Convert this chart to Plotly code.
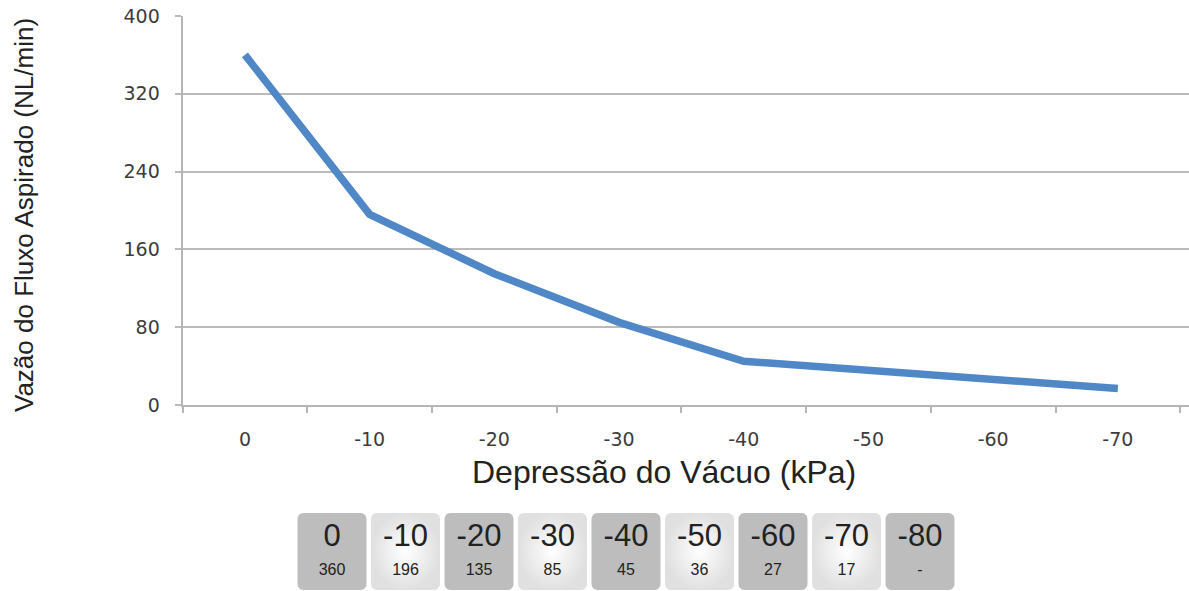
import numpy as np
import plotly.graph_objects as go

# ---- data ----
vacuum_labels = ["0", "-10", "-20", "-30", "-40", "-50", "-60", "-70"]
flow_values = [360, 196, 135, 85, 45, 36, 27, 17]
y_ticks = [0, 80, 160, 240, 320, 400]

table_labels = ["0", "-10", "-20", "-30", "-40", "-50", "-60", "-70", "-80"]
table_values = ["360", "196", "135", "85", "45", "36", "27", "17", "-"]
table_dark = [True, False, True, False, True, False, True, False, True]

W, H = 1189, 591

fig = go.Figure()

# main line
fig.add_trace(go.Scatter(
    x=vacuum_labels, y=flow_values, mode="lines",
    line=dict(color="#4f87c7", width=7.5), xaxis="x", yaxis="y",
    hoverinfo="x+y", showlegend=False,
))

# table boxes (rounded rects on the x2 / y2 axes)
pitch_px = 73.5
half_w = 34.5 / pitch_px
rx = 6 / pitch_px
ry = 6
y0b, y1b = 1, 78


def rounded_rect(cx):
    xs, ys = [], []
    corners = [
        (cx + half_w - rx, y1b - ry, 0, 90),
        (cx - half_w + rx, y1b - ry, 90, 180),
        (cx - half_w + rx, y0b + ry, 180, 270),
        (cx + half_w - rx, y0b + ry, 270, 360),
    ]
    for ccx, ccy, a0, a1 in corners:
        t = np.radians(np.linspace(a0, a1, 8))
        xs.extend(ccx + rx * np.cos(t))
        ys.extend(ccy + ry * np.sin(t))
    xs.append(xs[0])
    ys.append(ys[0])
    return xs, ys


for i, dark in enumerate(table_dark):
    xs, ys = rounded_rect(i)
    kw = dict(x=xs, y=ys, mode="lines", fill="toself", line=dict(width=0),
              xaxis="x2", yaxis="y2", hoverinfo="skip", showlegend=False)
    if dark:
        kw["fillcolor"] = "#bdbdbd"
    else:
        kw["fillgradient"] = dict(type="radial",
                                  colorscale=[[0, "#ffffff"], [1, "#e0e0e0"]])
    fig.add_trace(go.Scatter(**kw))

idx = list(range(len(table_labels)))
fig.add_trace(go.Scatter(
    x=idx, y=[53] * len(idx), mode="text", text=table_labels,
    textfont=dict(family="Liberation Sans, Arial", size=31, color="#222222"),
    xaxis="x2", yaxis="y2", hoverinfo="skip", showlegend=False,
))
fig.add_trace(go.Scatter(
    x=idx, y=[20.5] * len(idx), mode="text", text=table_values,
    textfont=dict(family="Liberation Sans, Arial", size=16, color="#222222"),
    xaxis="x2", yaxis="y2", hoverinfo="skip", showlegend=False,
))

x_left = 182.6
pitch_main = 124.7
x_right_cat = (W - x_left) / pitch_main - 0.5

tick_font = dict(family="DejaVu Sans", size=19, color="#3c3c3c")

fig.update_layout(
    width=W, height=H,
    margin=dict(l=0, r=0, t=0, b=0, pad=0),
    paper_bgcolor="white", plot_bgcolor="white",
    xaxis=dict(
        type="category", domain=[x_left / W, 1], range=[-0.5, x_right_cat],
        anchor="y", showgrid=False, showline=True, linecolor="#b5b5b5",
        linewidth=2, ticks="outside", tickson="boundaries", ticklen=6,
        tickcolor="#b5b5b5", tickwidth=1.5, ticklabelstandoff=16,
        tickfont=tick_font,
        zeroline=False, fixedrange=True, automargin=False,
    ),
    yaxis=dict(
        domain=[(H - 405) / H, (H - 16) / H], range=[0, 400],
        tickvals=y_ticks, anchor="x", showgrid=True, gridcolor="#bababa",
        gridwidth=2, showline=True, linecolor="#b5b5b5", linewidth=2,
        ticks="outside", ticklen=6, tickcolor="#bababa", tickwidth=2,
        ticklabelstandoff=11,
        tickfont=tick_font,
        zeroline=False, fixedrange=True, automargin=False,
    ),
    xaxis2=dict(
        domain=[(332 - pitch_px / 2) / W, (920 + pitch_px / 2) / W],
        range=[-0.5, 8.5], anchor="y2", visible=False, fixedrange=True,
    ),
    yaxis2=dict(
        domain=[0, 86 / H], range=[0, 86], anchor="x2", visible=False,
        fixedrange=True,
    ),
    annotations=[
        dict(text="Depressão do Vácuo (kPa)", x=663.5 / W, y=1 - 472 / H,
             xref="paper", yref="paper", showarrow=False,
             xanchor="center", yanchor="middle",
             font=dict(family="Liberation Sans, Arial", size=32, color="#222222")),
        dict(text="Vazão do Fluxo Aspirado (NL/min)", x=24 / W, y=1 - 215 / H,
             xref="paper", yref="paper", showarrow=False, textangle=-90,
             xanchor="center", yanchor="middle",
             font=dict(family="Liberation Sans, Arial", size=26, color="#222222")),
    ],
)

fig.write_html(
    "out.html",
    config={"displayModeBar": False},
    post_script="document.body.style.margin='0';document.body.style.padding='0';",
)
